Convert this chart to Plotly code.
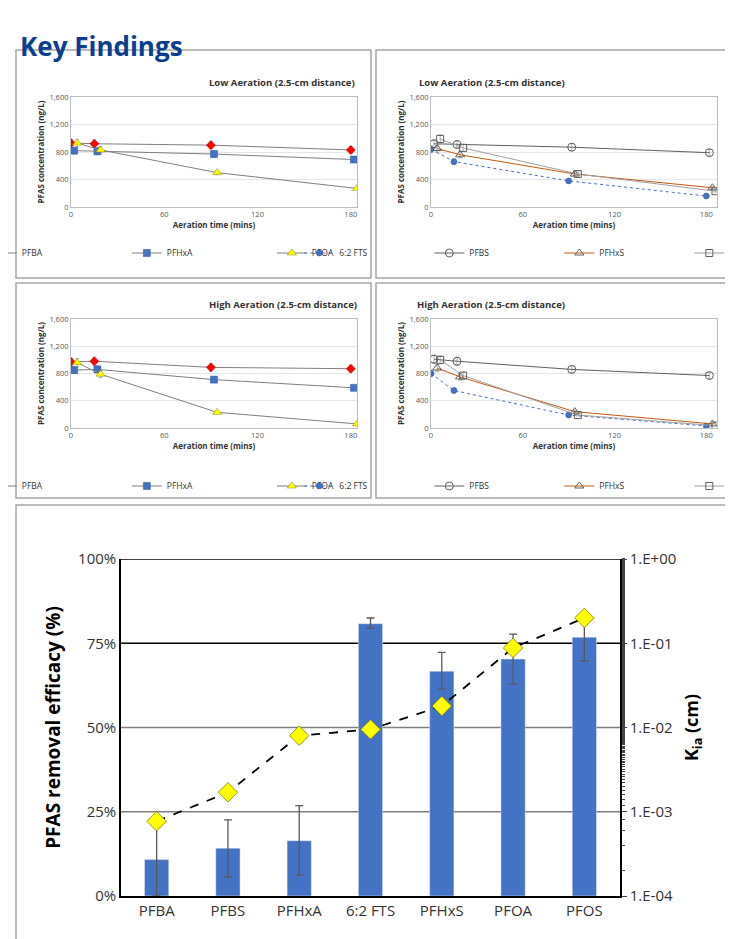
import plotly.graph_objects as go

W, H = 733, 939
def px(x): return x / W
def py(y): return 1 - y / H

# ---------------- data ----------------
t_a = [0, 15, 90, 180]
t_b = [2, 17, 92, 182]
t_c = [4, 19, 94, 184]
t_d = [6, 21, 96, 186]

low_pfba = [930, 920, 900, 830]
low_pfhxa = [820, 810, 770, 690]
low_pfoa = [930, 830, 500, 270]
low_fts = [840, 660, 380, 160]
low_pfbs = [920, 910, 870, 790]
low_pfhxs = [850, 760, 480, 280]
low_pfos = [990, 860, 480, 230]

high_pfba = [970, 980, 890, 870]
high_pfhxa = [850, 860, 710, 590]
high_pfoa = [960, 790, 230, 60]
high_fts = [800, 550, 190, 30]
high_pfbs = [1010, 980, 860, 770]
high_pfhxs = [880, 750, 240, 60]
high_pfos = [1000, 770, 190, 35]

compounds = ["PFBA", "PFBS", "PFHxA", "6:2 FTS", "PFHxS", "PFOA", "PFOS"]
removal = [10.8, 14.2, 16.4, 80.8, 66.7, 70.3, 76.8]
removal_hi = [22.0, 22.6, 26.8, 82.5, 72.3, 77.7, 84.0]
removal_lo = [0.0, 5.6, 6.2, 79.5, 61.4, 62.9, 69.8]
kia = [7.7e-4, 1.7e-3, 8.0e-3, 9.5e-3, 1.8e-2, 8.8e-2, 2.0e-1]

fig = go.Figure()

panels = [
    (1, 63, 349, 89, 199, "Low Aeration (2.5-cm distance)", "legend", 245, "left"),
    (2, 423, 709, 89, 199, "Low Aeration (2.5-cm distance)", "legend2", 245, "right"),
    (3, 63, 349, 311, 420, "High Aeration (2.5-cm distance)", "legend3", 478, "left"),
    (4, 423, 709, 311, 420, "High Aeration (2.5-cm distance)", "legend4", 478, "right"),
]

left_series = lambda a, b, c: [
    ("PFBA", t_a, a, dict(symbol="diamond", color="#FF0000", size=7, line=dict(color="#C00000", width=0.5)), dict(color="#808080", width=1)),
    ("PFHxA", t_b, b, dict(symbol="square", color="#4472C4", size=7, line=dict(color="#2F5597", width=0.5)), dict(color="#808080", width=1)),
    ("PFOA", t_c, c, dict(symbol="triangle-up", color="#FFFF00", size=8, line=dict(color="#808000", width=0.5)), dict(color="#808080", width=1)),
]
right_series = lambda a, b, c, d: [
    ("6:2 FTS", t_a, a, dict(symbol="circle", color="#4472C4", size=6, line=dict(color="#2F5597", width=0.5)), dict(color="#4472C4", width=1, dash="dot")),
    ("PFBS", t_b, b, dict(symbol="circle-open", color="#606060", size=8), dict(color="#606060", width=1)),
    ("PFHxS", t_c, c, dict(symbol="triangle-up-open", color="#606060", size=8), dict(color="#C55A11", width=1)),
    ("PFOS", t_d, d, dict(symbol="square-open", color="#606060", size=7), dict(color="#A0A0A0", width=1)),
]
series_sets = [
    left_series(low_pfba, low_pfhxa, low_pfoa),
    right_series(low_fts, low_pfbs, low_pfhxs, low_pfos),
    left_series(high_pfba, high_pfhxa, high_pfoa),
    right_series(high_fts, high_pfbs, high_pfhxs, high_pfos),
]

for (i, x0, x1, y0, y1, title, lg, ly, side), sers in zip(panels, series_sets):
    xa = "x" if i == 1 else f"x{i}"
    ya = "y" if i == 1 else f"y{i}"
    for name, t, v, mk, ln in sers:
        fig.add_trace(go.Scatter(x=t, y=v, name=name, mode="lines+markers", marker=mk, line=ln,
                                 xaxis=xa, yaxis=ya, legend=lg,
                                 error_y=dict(type="data", array=[v_ * 0.06 for v_ in v], color="#909090", thickness=0.7, width=2)))
    kx = "xaxis" if i == 1 else f"xaxis{i}"
    ky = "yaxis" if i == 1 else f"yaxis{i}"
    fig.layout[kx] = dict(domain=[px(x0), px(x1)], anchor=ya, range=[0, 184 if side == "left" else 187],
                          tickvals=[0, 60, 120, 180], tickfont=dict(size=7.5, color="#595959"),
                          showline=True, linecolor="#BFBFBF", mirror=True, showgrid=False, zeroline=False, ticks="",
                          title=dict(text="<b>Aeration time (mins)</b>", font=dict(size=8, color="#333"), standoff=2))
    fig.layout[ky] = dict(domain=[py(y1), py(y0)], anchor=xa, range=[0, 1600],
                          tickvals=[0, 400, 800, 1200, 1600], ticktext=["0", "400", "800", "1,200", "1,600"],
                          tickfont=dict(size=7.5, color="#595959"), showline=True, linecolor="#BFBFBF", mirror=True,
                          showgrid=True, gridcolor="#E6E6E6", zeroline=False,
                          title=dict(text="<b>PFAS concentration (ng/L)</b>", font=dict(size=8, color="#333"), standoff=3))
    fig.layout[lg] = dict(orientation="h", x=(x0 + x1) / 2 / W - 0.02, xanchor="center", y=py(ly), yanchor="middle",
                          font=dict(size=8.5, color="#333"), bgcolor="rgba(0,0,0,0)", itemwidth=30,
                          entrywidth=100 if side == "left" else 85, entrywidthmode="pixels")
    fig.add_annotation(x=(x0 + x1) / 2 / W - 0.01, y=py(66 if i < 3 else 288), xref="paper", yref="paper",
                       text=f"<b>{title}</b>", showarrow=False, font=dict(size=9.5, color="#333"))

# ---------------- bottom chart ----------------
fig.add_trace(go.Bar(x=compounds, y=removal, marker_color="#4472C4", width=0.34, showlegend=False,
                     xaxis="x5", yaxis="y5",
                     error_y=dict(type="data", symmetric=False,
                                  array=[h - r for h, r in zip(removal_hi, removal)],
                                  arrayminus=[r - l for r, l in zip(removal, removal_lo)],
                                  color="#595959", thickness=1.3, width=4)))
fig.add_trace(go.Scatter(x=compounds, y=kia, mode="lines+markers", showlegend=False, xaxis="x5", yaxis="y6",
                         line=dict(color="black", width=1.8, dash="dash"),
                         marker=dict(symbol="diamond", size=15, color="#FFFF00", line=dict(color="#7F7F00", width=0.8))))
fig.update_layout(
    xaxis5=dict(domain=[px(113), px(612)], anchor="y5", tickfont=dict(size=15, color="#333"),
                showline=True, linecolor="black", linewidth=1.5, ticks=""),
    yaxis5=dict(domain=[py(888), py(551)], anchor="x5", range=[0, 100], tickvals=[0, 25, 50, 75, 100],
                ticktext=["0%", "25%", "50%", "75%", "100%"], tickfont=dict(size=15, color="#333"),
                showline=True, linecolor="black", linewidth=1.5, mirror=False, showgrid=False, zeroline=False,
                title=dict(text="<b>PFAS removal efficacy (%)</b>", font=dict(size=19, color="black"), standoff=12)),
    yaxis6=dict(overlaying="y5", side="right", anchor="x5", type="log", range=[-4, 0],
                tickvals=[1e-4, 1e-3, 1e-2, 1e-1, 1], ticktext=["1.E-04", "1.E-03", "1.E-02", "1.E-01", "1.E+00"],
                tickfont=dict(size=15, color="#333"), showline=True, linecolor="black", linewidth=1.5,
                ticks="outside", ticklen=5, minor=dict(ticks="outside", ticklen=3, showgrid=False),
                showgrid=False, zeroline=False,
                title=dict(text="<b>K<sub>ia</sub> (cm)</b>", font=dict(size=18, color="black"), standoff=10)),
)

shapes = []
for yv, col in [(25, "#7F7F7F"), (50, "#7F7F7F"), (75, "black"), (100, "black")]:
    shapes.append(dict(type="line", xref="x5 domain", yref="y5", x0=0, x1=1, y0=yv, y1=yv,
                       line=dict(color=col, width=1.5), layer="below"))
for (x0, y0, x1, y1) in [(8, 42, 363, 270), (368, 42, 726, 270), (8, 275, 363, 490), (368, 275, 726, 490), (8, 497, 726, 932)]:
    shapes.append(dict(type="rect", xref="paper", yref="paper", x0=px(x0), x1=px(x1), y0=py(y1), y1=py(y0),
                       line=dict(color="#A6A6A6", width=1.5)))
fig.update_layout(shapes=shapes)

fig.add_annotation(x=px(10), y=py(18), xref="paper", yref="paper", xanchor="left", text="<b>Key Findings</b>",
                   showarrow=False, font=dict(size=26, color="#0B3D91"))

fig.update_layout(width=W, height=H, margin=dict(l=0, r=0, t=0, b=0, autoexpand=False),
                  plot_bgcolor="white", paper_bgcolor="white",
                  font=dict(family="Open Sans, Calibri, sans-serif"), barmode="overlay")
fig.write_html("out.html")
